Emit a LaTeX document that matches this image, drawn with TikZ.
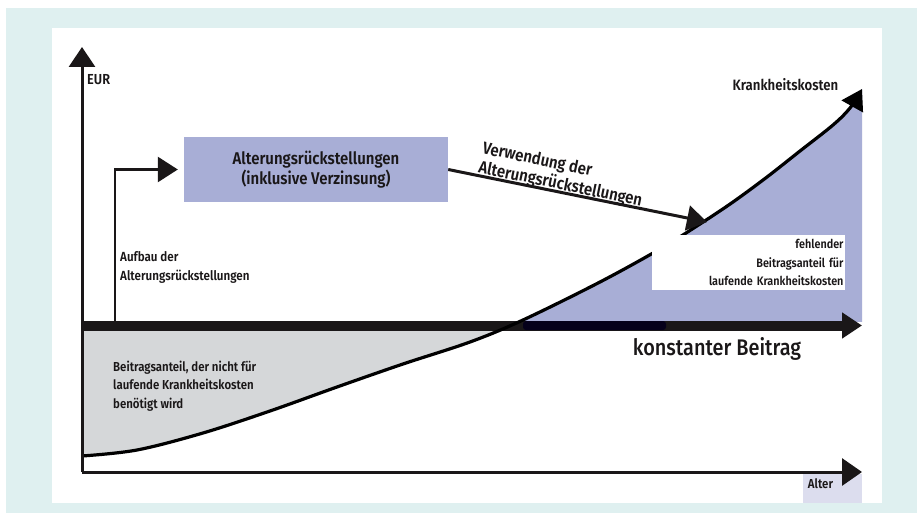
\documentclass[tikz,border=0pt]{standalone}
\usepackage{fontspec}
\setmainfont{Fira Sans}[FakeStretch=0.88]
\newfontfamily\labfont{Fira Sans SemiBold}[FakeStretch=0.88]
\newfontfamily\bigfont{Fira Sans Medium}[FakeStretch=0.88]
\usetikzlibrary{arrows.meta}
\definecolor{bgteal}{HTML}{DFF0F0}
\definecolor{boxblue}{HTML}{A8AED6}
\definecolor{greyfill}{HTML}{D5D7D9}
\definecolor{lavender}{HTML}{DCDDEE}
\definecolor{navy}{HTML}{05001A}
\definecolor{ink}{HTML}{1A1718}
\def\curvepts{(82,456) (137,450) (203,433) (270,411) (337,387) (403,364) (470,342) (523,320) (600,282) (660,249) (700,224) (733,202) (767,177) (800,151) (833,125) (850,108) (862,89)}
\begin{document}
\begin{tikzpicture}[x=1pt,y=-1pt,
  lbl/.style={font=\labfont\fontsize{13}{18.5}\selectfont, text=ink, inner sep=0pt},
  boxlbl/.style={font=\labfont\fontsize{17}{19.5}\selectfont, text=ink, inner sep=0pt},
  axisline/.style={line width=3pt, draw=ink, -{Triangle[length=20pt,width=26pt]}},
  flowline/.style={line width=2.6pt, draw=ink, -{Triangle[length=20pt,width=25pt]}}]
\useasboundingbox (0,0) rectangle (917,513);
% backgrounds
\fill[bgteal] (6,8) rectangle (917,513);
\fill[white] (52,28) rectangle (882,503);
% lavender box behind "Alter"
\fill[lavender] (803,474) rectangle (862,503);
% fills between curve and constant contribution line
\begin{scope}
  \clip (82,0) rectangle (862,321);
  \fill[boxblue] plot[smooth, tension=0.55] coordinates {\curvepts} -- (862,325) -- (82,325) -- cycle;
\end{scope}
\begin{scope}
  \clip (82,330) rectangle (862,472);
  \fill[greyfill] plot[smooth, tension=0.55] coordinates {\curvepts} -- (862,325) -- (82,325) -- cycle;
\end{scope}
% constant contribution line
\coordinate (beitragStart) at (82,325.5);
\coordinate (beitragEnd) at (862,325.5);
\draw[line width=10pt, draw=ink, -{Triangle[length=20pt,width=25pt]}] (beitragStart) -- (beitragEnd);
\fill[navy, rounded corners=3pt] (523,321) rectangle (666,330);
% cost curve
\draw[line width=3.2pt, draw=black, -{Triangle[length=20pt,width=24pt]}] plot[smooth, tension=0.55] coordinates {\curvepts};
% axes
\coordinate (origin) at (82,472);
\coordinate (yTop) at (82,47);
\coordinate (xEnd) at (862,472);
\draw[axisline] (origin) -- (yTop);
\draw[axisline, -{Triangle[length=20pt,width=27pt]}] (origin) -- (xEnd);
% box
\node[boxlbl, fill=boxblue, minimum width=264pt, minimum height=65pt, align=center] (box) at (316,169.5)
  {Alterungsrückstellungen\\(inklusive Verzinsung)};
% Aufbau arrow
\coordinate (aufbauStart) at (115,321);
\draw[flowline, shorten >=6pt] (aufbauStart) |- (box.west);
% Verwendung arrow
\coordinate (verwEnd) at (707,222);
\draw[flowline, line width=3pt] (box.east) -- (verwEnd);
% white label box
\node[lbl, font=\labfont\fontsize{12.3}{18.3}\selectfont, fill=white, minimum width=193pt, minimum height=55pt, text width=190pt, align=right] (fehl) at (748.5,262.5)
  {fehlender\\Beitragsanteil für\\laufende Krankheitskosten};
% labels
\node[lbl, anchor=west, font=\labfont\fontsize{14.5}{16}\selectfont] (eur) at (87,80) {EUR};
\node[lbl, anchor=west, align=left, font=\labfont\fontsize{13.2}{18.8}\selectfont] (aufbau) at (120,267.5) {Aufbau der\\Alterungsrückstellungen};
\node[lbl, anchor=west, align=left] (nicht) at (113,386) {Beitragsanteil, der nicht für\\laufende Krankheitskosten\\benötigt wird};
\node[lbl, font=\labfont\fontsize{15}{17}\selectfont] (kosten) at (785.5,85) {Krankheitskosten};
\node[lbl, font=\labfont\fontsize{13}{15}\selectfont] (alter) at (820.5,484) {Alter};
\node[inner sep=0pt, anchor=base, text=ink, font=\bigfont\fontsize{22.6}{26}\selectfont] (konst) at (717,355) {konstanter Beitrag};
\node[boxlbl, rotate=-11.7, anchor=west, align=left] (verw) at (480.5,158.5) {Verwendung der\\Alterungsrückstellungen};
\end{tikzpicture}
\end{document}
